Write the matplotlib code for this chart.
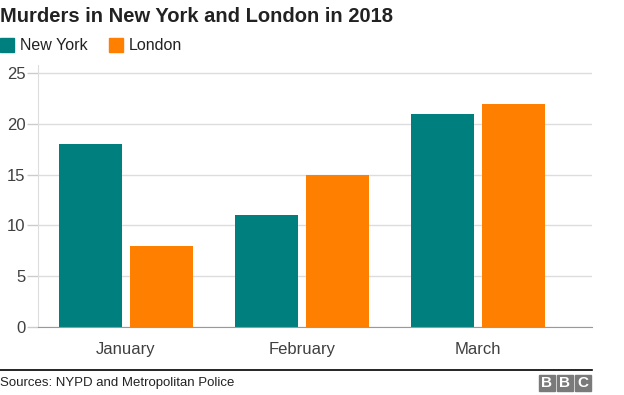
import matplotlib
matplotlib.use("Agg")
import matplotlib.pyplot as plt
import numpy as np
from matplotlib.patches import Rectangle

months = ["January", "February", "March"]
new_york = [18, 11, 21]
london = [8, 15, 22]
yticks = [0, 5, 10, 15, 20, 25]

TEAL = "#007f7f"
ORANGE = "#ff7f00"
TXT = "#404040"
FONT = "Liberation Sans"

fig = plt.figure(figsize=(6.24, 3.95), dpi=100)
W, H = 624, 395
ax = fig.add_axes([38 / W, 1 - 327 / H, (592 - 38) / W, (327 - 65) / H])

x = np.arange(len(months))
bw = 0.358
ax.bar(x - 0.2, new_york, width=bw, color=TEAL, zorder=3)
ax.bar(x + 0.2, london, width=bw, color=ORANGE, zorder=3)

ax.set_xlim(-0.5, 2.648)
ax.set_ylim(0, 25.8)
ax.set_yticks(yticks)
ax.set_yticklabels([str(v) for v in yticks], fontsize=12, color=TXT, family=FONT)
ax.set_xticks(x)
ax.set_xticklabels(months, fontsize=12, color=TXT, family=FONT)
ax.tick_params(axis="y", length=8, color="#cccccc", width=1, pad=1)
ax.tick_params(axis="x", length=0, pad=11)
ax.grid(axis="y", color="#dddddd", linewidth=1, zorder=0)
for s in ["top", "right"]:
    ax.spines[s].set_visible(False)
ax.spines["left"].set_color("#dddddd")
ax.spines["bottom"].set_color("#999999")
ax.spines["bottom"].set_zorder(4)

fig.text(0, 1 - 17 / H, "Murders in New York and London in 2018", fontsize=14.5,
         fontweight="bold", color="#222222", family=FONT, va="center", ha="left")

# legend
for (lx, label, col) in [(0, "New York", TEAL), (109, "London", ORANGE)]:
    fig.patches.append(Rectangle((lx / W, 1 - 52 / H), 14 / W, 14 / H,
                                 transform=fig.transFigure, color=col))
    fig.text((lx + 20) / W, 1 - 45.5 / H, label, fontsize=11.5, color="#222222",
             family=FONT, va="center", ha="left")

# footer
fig.add_artist(plt.Line2D([0, 592 / W], [1 - 370 / H, 1 - 370 / H],
                          transform=fig.transFigure, color="black", linewidth=1.2))
fig.text(0, 1 - 383 / H, "Sources: NYPD and Metropolitan Police", fontsize=9.5,
         color="#222222", family=FONT, va="center", ha="left")
for i, letter in enumerate("BBC"):
    bx = 539 + i * 18
    fig.patches.append(Rectangle((bx / W, 1 - 391 / H), 16 / W, 16 / H,
                                 transform=fig.transFigure, color="#7a7a7a"))
    fig.text((bx + 8) / W, 1 - 383 / H, letter, fontsize=11, fontweight="bold",
             color="white", family=FONT, va="center", ha="center")

fig.savefig("out.png", dpi=100)
